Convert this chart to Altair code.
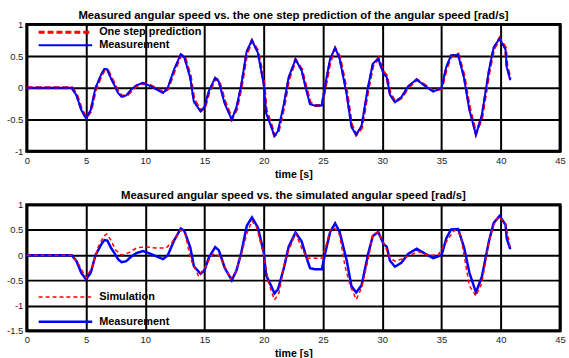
import altair as alt
import pandas as pd

# Measured angular speed [rad/s] and its one-step-ahead prediction
t_meas = [0, 3.8, 4.2, 4.6, 5.0, 5.4, 5.8, 6.3, 6.55, 6.8,
          7.1, 7.45, 7.7, 8.0, 8.4, 8.8, 9.25, 9.8, 10.3, 10.9,
          11.5, 11.9, 12.45, 13.0, 13.3, 13.8, 14.1, 14.67, 15.0, 15.36,
          15.9, 16.2, 16.7, 17.3, 17.7, 18.1, 18.56, 19.0, 19.5, 20.0,
          20.2, 20.6, 20.9, 21.2, 21.7, 22.1, 22.68, 23.2, 23.5, 23.9,
          24.3, 24.9, 25.18, 25.6, 26.02, 26.4, 27.0, 27.4, 27.8, 28.25,
          28.8, 29.2, 29.66, 30.1, 30.37, 30.65, 31.07, 31.6, 32.2, 32.9,
          33.6, 34.3, 35.0, 35.4, 35.8, 36.4, 36.9, 37.35, 37.9, 38.4,
          39.0, 39.4, 39.9, 40.4, 40.5, 40.8]
measurement = [0, 0, -0.12, -0.35, -0.48, -0.35, 0.0, 0.22, 0.30, 0.29,
               0.15, 0.02, -0.08, -0.14, -0.12, -0.03, 0.04, 0.08, 0.04, -0.02,
               -0.08, 0.0, 0.30, 0.53, 0.48, 0.15, -0.22, -0.37, -0.30, -0.05,
               0.16, 0.10, -0.25, -0.50, -0.30, 0.05, 0.58, 0.75, 0.55, 0.05,
               -0.40, -0.60, -0.76, -0.68, -0.25, 0.17, 0.45, 0.27, 0.03, -0.26,
               -0.28, -0.28, 0.04, 0.46, 0.63, 0.46, -0.11, -0.62, -0.74, -0.60,
               0.02, 0.38, 0.46, 0.22, 0.17, -0.11, -0.23, -0.15, 0.03, 0.13,
               0.03, -0.06, 0.0, 0.33, 0.51, 0.52, 0.15, -0.35, -0.74, -0.43,
               0.28, 0.64, 0.78, 0.60, 0.33, 0.12]
one_step = [0, 0, -0.10, -0.33, -0.47, -0.37, -0.03, 0.20, 0.28, 0.29,
            0.17, 0.04, -0.06, -0.13, -0.13, -0.05, 0.03, 0.07, 0.05, -0.01,
            -0.07, -0.02, 0.27, 0.51, 0.50, 0.19, -0.18, -0.36, -0.32, -0.08,
            0.14, 0.12, -0.21, -0.49, -0.34, 0.01, 0.54, 0.74, 0.58, 0.10,
            -0.35, -0.57, -0.75, -0.71, -0.30, 0.13, 0.44, 0.29, 0.06, -0.23,
            -0.28, -0.28, 0.0, 0.42, 0.62, 0.49, -0.06, -0.58, -0.74, -0.63,
            -0.03, 0.35, 0.46, 0.25, 0.19, -0.08, -0.22, -0.16, 0.01, 0.13,
            0.04, -0.05, -0.01, 0.30, 0.50, 0.53, 0.19, -0.31, -0.72, -0.47,
            0.24, 0.61, 0.78, 0.63, 0.36, 0.14]

# Free-run simulation of the angular speed [rad/s]
t_sim = [0, 3.8, 4.3, 5.0, 5.5, 6.0, 6.5, 6.75, 7.1, 7.5,
         8.0, 8.6, 9.25, 9.95, 10.9, 11.75, 12.3, 13.0, 13.4, 13.8,
         14.5, 15.1, 15.6, 15.9, 16.3, 17.2, 17.6, 18.1, 18.6, 19.0,
         19.4, 20.0, 20.4, 20.9, 21.28, 21.84, 22.68, 23.2, 23.65, 24.1,
         24.9, 25.2, 25.6, 26.0, 26.4, 26.85, 27.3, 27.8, 28.25, 28.8,
         29.2, 29.66, 30.2, 30.65, 31.07, 31.6, 32.2, 33.0, 33.9, 34.7,
         35.5, 36.1, 36.6, 37.35, 37.9, 38.4, 39.0, 39.4, 39.8, 40.4,
         40.8]
simulation = [0.0, 0.0, -0.15, -0.45, -0.25, 0.15, 0.38, 0.42, 0.30, 0.10,
              0.0, 0.05, 0.14, 0.17, 0.14, 0.14, 0.27, 0.50, 0.40, -0.06,
              -0.42, -0.22, 0.0, 0.03, -0.03, -0.47, -0.35, 0.02, 0.45, 0.68,
              0.55, 0.0, -0.55, -0.89, -0.75, -0.06, 0.43, 0.14, -0.06, -0.06,
              -0.06, 0.15, 0.50, 0.53, 0.40, -0.22, -0.61, -0.88, -0.65, -0.09,
              0.40, 0.46, 0.20, -0.06, -0.12, -0.08, -0.02, 0.07, 0.0, 0.0,
              0.30, 0.50, 0.40, -0.61, -0.81, -0.55, 0.27, 0.60, 0.77, 0.63,
              0.14]

x_ticks = [0, 5, 10, 15, 20, 25, 30, 35, 40, 45]
top_y_ticks = [-1, -0.5, 0, 0.5, 1]
bottom_y_ticks = [-1.5, -1, -0.5, 0, 0.5, 1]

FONT = "Liberation Sans"
W, H = 538, 128
RED = "#ff0000"
BLUE = "#0000ff"

meas_df = pd.DataFrame({"t": t_meas, "v": measurement})
pred_df = pd.DataFrame({"t": t_meas, "v": one_step})
sim_df = pd.DataFrame({"t": t_sim, "v": simulation})

LABEL_EXPR = ("datum.value < 0 ? '-' + format(-datum.value, '~g') "
              ": format(datum.value, '~g')")


def x_axis():
    return alt.X(
        "t:Q",
        scale=alt.Scale(domain=[0, 45], nice=False, zero=False),
        axis=alt.Axis(values=x_ticks, title="time [s]", grid=True,
                      gridColor="black", gridWidth=2, gridOpacity=1,
                      ticks=False, domain=False, labelFont=FONT,
                      labelFontSize=9.5, labelColor="#222", labelPadding=4,
                      labelFlush=False, labelExpr=LABEL_EXPR,
                      titleFont=FONT, titleFontSize=10.7,
                      titleFontWeight="bold", titleColor="black",
                      titlePadding=5),
    )


def y_axis(domain, ticks):
    return alt.Y(
        "v:Q",
        scale=alt.Scale(domain=domain, nice=False, zero=False),
        axis=alt.Axis(values=ticks, title=None, grid=True,
                      gridColor="black", gridWidth=2, gridOpacity=1,
                      ticks=False, domain=False, labelFont=FONT,
                      labelFontSize=9.5, labelColor="#222", labelPadding=4,
                      labelFlush=False, labelExpr=LABEL_EXPR),
    )


def legend_entry(label, y, color, width, dash=None):
    d = pd.DataFrame({"label": [label]})
    rule_kw = dict(color=color, strokeWidth=width)
    if dash is not None:
        rule_kw["strokeDash"] = dash
    line = alt.Chart(d).mark_rule(**rule_kw).encode(
        x=alt.value(12), x2=alt.value(66), y=alt.value(y))
    text = alt.Chart(d).mark_text(
        align="left", baseline="middle", font=FONT, fontSize=11,
        fontWeight="bold", color="black").encode(
        x=alt.value(73), y=alt.value(y), text="label:N")
    return line + text


def panel_title(text):
    return alt.TitleParams(text=text, font=FONT, fontSize=11.4,
                           fontWeight="bold", color="black", offset=-2,
                           anchor="middle")


# Upper panel: measurement vs. one-step prediction
pred_line = alt.Chart(pred_df).mark_line(
    color=RED, strokeWidth=3, strokeDash=[6, 3]).encode(
    x=x_axis(), y=y_axis([-1, 1], top_y_ticks))
meas_line_top = alt.Chart(meas_df).mark_line(
    color=BLUE, strokeWidth=2).encode(
    x=x_axis(), y=y_axis([-1, 1], top_y_ticks))

top = alt.layer(
    pred_line, meas_line_top,
    legend_entry("One step prediction", 8, RED, 3, [6, 3]),
    legend_entry("Measurement", 21, BLUE, 2),
).properties(
    width=W, height=H,
    title=panel_title("Measured angular speed vs. the one step prediction "
                      "of the angular speed [rad/s]"),
)

# Lower panel: measurement vs. free-run simulation
sim_line = alt.Chart(sim_df).mark_line(
    color=RED, strokeWidth=1.5, strokeDash=[4, 3]).encode(
    x=x_axis(), y=y_axis([-1.5, 1], bottom_y_ticks))
meas_line_bottom = alt.Chart(meas_df).mark_line(
    color=BLUE, strokeWidth=2.5).encode(
    x=x_axis(), y=y_axis([-1.5, 1], bottom_y_ticks))

bottom = alt.layer(
    meas_line_bottom, sim_line,
    legend_entry("Simulation", 93, RED, 1.5, [4, 3]),
    legend_entry("Measurement", 118, BLUE, 2.5),
).properties(
    width=W, height=127,
    title=panel_title("Measured angular speed vs. the simulated angular "
                      "speed [rad/s]"),
)

chart = alt.vconcat(top, bottom, spacing=8).properties(
    padding={"left": 5, "top": 7, "right": 2, "bottom": 0},
    background="white",
).configure_view(stroke="black", strokeWidth=3)

chart.save("out.html", embed_options={"renderer": "svg", "actions": False})
